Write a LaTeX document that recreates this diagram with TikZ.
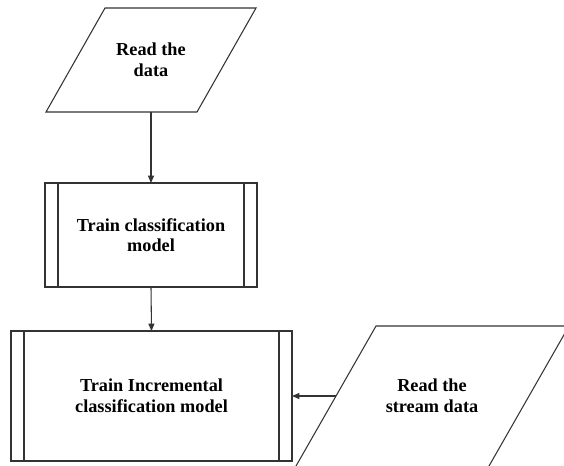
\documentclass[tikz,border=0pt]{standalone}
\usepackage{fontspec}
\setmainfont{Liberation Serif}
\usetikzlibrary{arrows.meta}
\newdimen\unitpx \unitpx=0.75pt
\tikzset{
  lineclr/.style={draw=black!80},
  txt/.style={font=\bfseries\fontsize{13.7pt}{15.5pt}\selectfont, align=center, text=black, inner sep=0pt},
  shapeline/.style={lineclr, line width=0.8pt},
  procbox/.style={txt, shapeline, rectangle, outer sep=0pt},
  flow/.style={lineclr, line width=0.8pt, -{Triangle[length=5.5pt,width=4.5pt]}}
}
\begin{document}
\begin{tikzpicture}[x=0.75pt,y=-0.75pt]
\useasboundingbox (0,0) rectangle (564,465);
\clip (0,0) rectangle (564,465);
% input: read the data
\draw[shapeline] (105,8) -- (256,8) -- (197,112) -- (46,112) -- cycle;
\node[txt] (read) at (151,60) {Read the\\data};
\coordinate (readout) at (151,112);
% process: train classification
\node[procbox, minimum width=212\unitpx, minimum height=104\unitpx] (train) at (151,235) {Train classification\\model};
\draw[shapeline] ([xshift=13\unitpx]train.north west) -- ([xshift=13\unitpx]train.south west)
  ([xshift=-13\unitpx]train.north east) -- ([xshift=-13\unitpx]train.south east);
% process: incremental
\node[procbox, minimum width=281\unitpx, minimum height=130\unitpx] (inc) at (151.5,396) {Train Incremental\\classification model};
\draw[shapeline] ([xshift=13\unitpx]inc.north west) -- ([xshift=13\unitpx]inc.south west)
  ([xshift=-13\unitpx]inc.north east) -- ([xshift=-13\unitpx]inc.south east);
% input: stream data
\draw[shapeline] (376,326) -- (569,326) -- (481,480) -- (288,480) -- cycle;
\node[txt] (stream) at (432,396) {Read the\\stream data};
\coordinate (streamin) at (336,396);
% connectors
\draw[flow] (readout) -- (train.north);
\draw[flow] (train.south) -- (inc.north);
\draw[flow] (streamin) -- (inc.east);
\end{tikzpicture}
\end{document}
